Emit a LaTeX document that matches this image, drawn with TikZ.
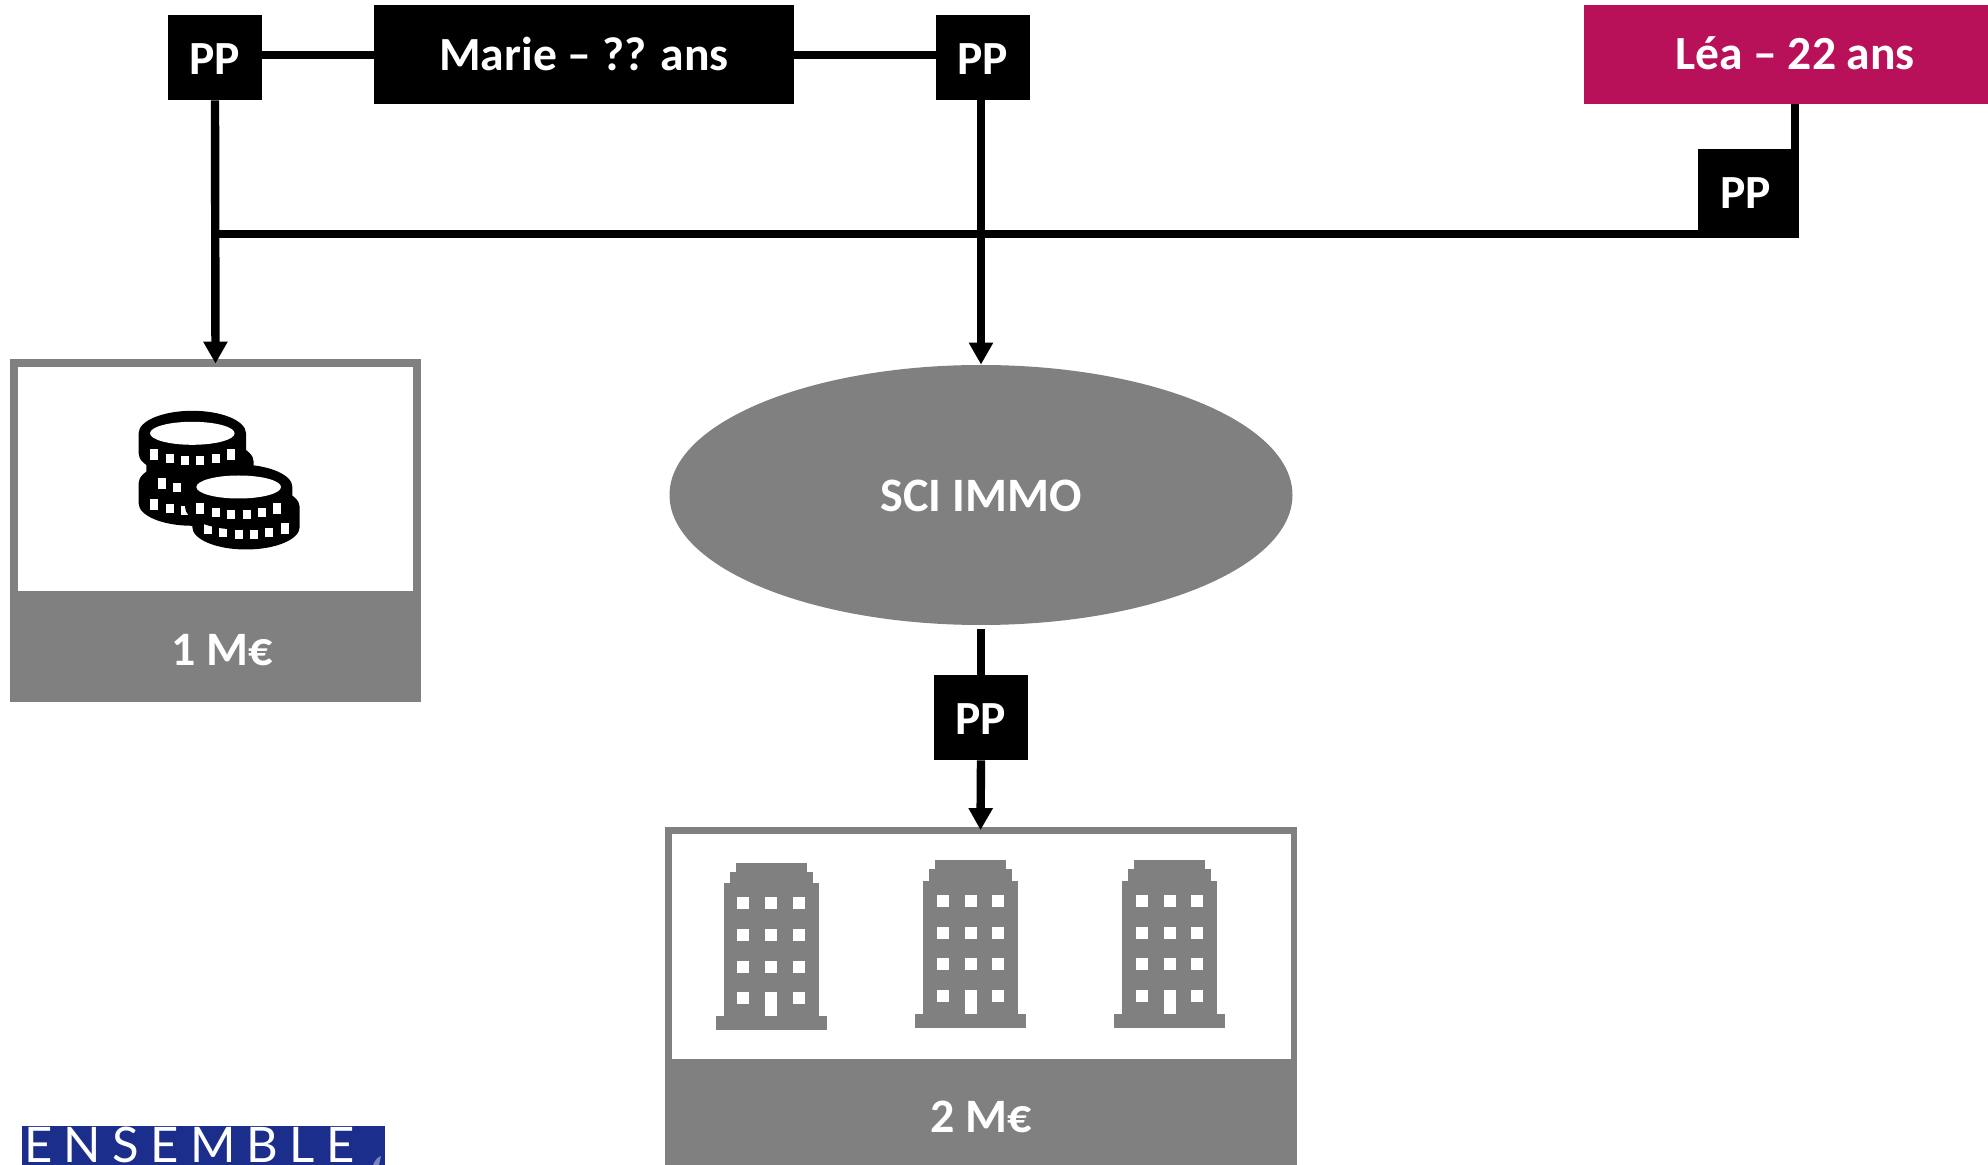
\documentclass[tikz,border=0pt]{standalone}
\usepackage{fontspec}
\setmainfont{Carlito}
\newfontfamily\logofont[LetterSpace=23]{Lato}
\usetikzlibrary{arrows.meta,shapes.geometric}
\definecolor{midgray}{HTML}{808080}
\definecolor{lea}{HTML}{B8115A}
\definecolor{logoblue}{HTML}{1B2E8C}
\definecolor{logomark}{HTML}{7C86BE}
\newcommand{\lowtext}[2]{\raisebox{#1}[15pt][0pt]{#2}}
\tikzset{
  namebox/.style={fill=black,text=white,inner sep=0pt,font=\bfseries\fontsize{23.8}{27}\selectfont,anchor=center},
  pptag/.style={namebox,minimum width=47pt,minimum height=42.5pt},
  link/.style={draw=black,line width=4.2pt},
  arrowlink/.style={link,-{Triangle[length=11pt,width=11.5pt]}},
  valtext/.style={text=white,inner sep=0pt,font=\bfseries\fontsize{24}{27}\selectfont},
  graypart/.style={fill=midgray,draw=none},
  whitepart/.style={fill=white,draw=none}
}
\newcommand{\coinbody}[2]{%
  \fill[black] (#1-53.7,#2) arc[start angle=180,end angle=360,x radius=53.7,y radius=22.5]
    -- ++(0,20) arc[start angle=0,end angle=180,x radius=53.7,y radius=22.5] -- cycle;
  \foreach \dx/\ya/\yb in {-38.3/16/27,-22.7/21/30,-7.3/23/32,8/23/32,23.3/21/30,38.7/16/27}{
    \fill[white] (#1+\dx-4,#2+\ya) rectangle (#1+\dx+4,#2+\yb);
  }%
}
\newcommand{\coinhole}[2]{\fill[white] (#1,#2) ellipse[x radius=42.3,y radius=11.5];}
\newcommand{\building}[2]{%
  \begin{scope}[shift={(#1,#2)}]
    \fill[midgray] (-55.5,153) rectangle (55.5,167);
    \fill[midgray] (-47.5,20) rectangle (47.5,153);
    \fill[midgray] (-41.5,8.4) rectangle (41.5,20);
    \fill[midgray] (-35.3,0) rectangle (35.5,8.4);
    \foreach \wx in {-33.7,-6,21.7}{
      \foreach \wy in {34,66,97.3}{
        \fill[white] (\wx,\wy) rectangle (\wx+12,\wy+12);
      }
    }
    \fill[white] (-33.7,129) rectangle (-21.7,141);
    \fill[white] (21.7,129) rectangle (33.7,141);
    \fill[white] (-6,129) rectangle (6,153);
  \end{scope}%
}
\begin{document}
\begin{tikzpicture}[x=0.5pt,y=-0.5pt]
\useasboundingbox (0,0) rectangle (1988,1165);

% top row
\node[namebox,minimum width=210pt,minimum height=49.5pt] (marie) at (584,54.5) {\lowtext{-0.5pt}{Marie – ?? ans}};
\node[pptag] (pp1) at (215,57.5) {\lowtext{-1.2pt}{PP}};
\node[pptag] (pp2) at (983,57.5) {\lowtext{-1.2pt}{PP}};
\node[namebox,fill=lea,minimum width=202pt,minimum height=49.5pt] (leab) at (1786,54.5) {\hspace{9pt}\lowtext{0pt}{Léa – 22 ans}};
\node[pptag,minimum width=50.5pt,minimum height=44.5pt] (pp3) at (1748.5,193.5) {\hspace{-3pt}\lowtext{0pt}{PP}};

% left block
\node[graypart,minimum width=205.5pt,minimum height=171.5pt,inner sep=0pt] (box1) at (215.5,530.5) {};
\node[whitepart,minimum width=197.5pt,minimum height=112pt,inner sep=0pt] (box1in) at (215.5,479) {};
\node[valtext] (val1) at (222,650) {1 M€};

% SCI ellipse
\node[ellipse,graypart,minimum width=311.5pt,minimum height=130pt,inner sep=0pt,valtext] (sci) at (981,495) {\lowtext{-0.8pt}{SCI IMMO}};
\node[pptag] (pp4) at (981,717.5) {\lowtext{-1.2pt}{PP}};

% right block
\node[graypart,minimum width=316pt,minimum height=169pt,inner sep=0pt] (box2) at (980.5,996.5) {};
\node[whitepart,minimum width=309.5pt,minimum height=112pt,inner sep=0pt] (box2in) at (981,946.5) {};
\node[valtext] (val2) at (981,1117) {2 M€};

% junctions and arrow ends
\coordinate (j1) at (pp1.south |- 0,234);
\coordinate (leadrop) at (1795,104);
\coordinate (leapp) at (1795,149);
\coordinate (j3) at (pp3.south east |- j1);

% connectors
\draw[link] (pp1.east |- 0,55) -- (marie.west |- 0,55);
\draw[link] (marie.east |- 0,55) -- (pp2.west |- 0,55);
\draw[link] (leadrop) -- (leapp);
\draw[link] (j1) -- (j3);
\draw[arrowlink] (pp1.south) -- ([yshift=-2.5pt]box1.north);
\draw[arrowlink] (sci.north |- pp2.south) -- (sci.north);
\draw[link,shorten <=2pt] (sci.south) -- (pp4.north);
\draw[arrowlink] (pp4.south) -- ([yshift=-1.5pt]box2.north);

% coins
\coinbody{192.3}{483.3}
\coinbody{200}{461.7}
\coinbody{192.3}{433.3}
\coinhole{192.3}{433.3}
\coinbody{246}{507}
\coinbody{238.7}{487}
\coinhole{238.7}{487}

% buildings
\building{771}{863.3}
\building{970.5}{860.5}
\building{1169.5}{860.5}

% logo
\node[fill=logoblue,minimum width=181.5pt,minimum height=19.5pt,inner sep=0pt] (logo) at (203.5,1145.5) {};
\node[text=white,inner sep=0pt,anchor=base west,font=\logofont\fontsize{24.5}{24.5}\selectfont] (logotext) at (24,1162.5) {ENSEMBLE};
\fill[logomark] (373,1165) .. controls (375,1160) and (378,1157) .. (381,1156) -- (379,1165) -- cycle;
\end{tikzpicture}
\end{document}
